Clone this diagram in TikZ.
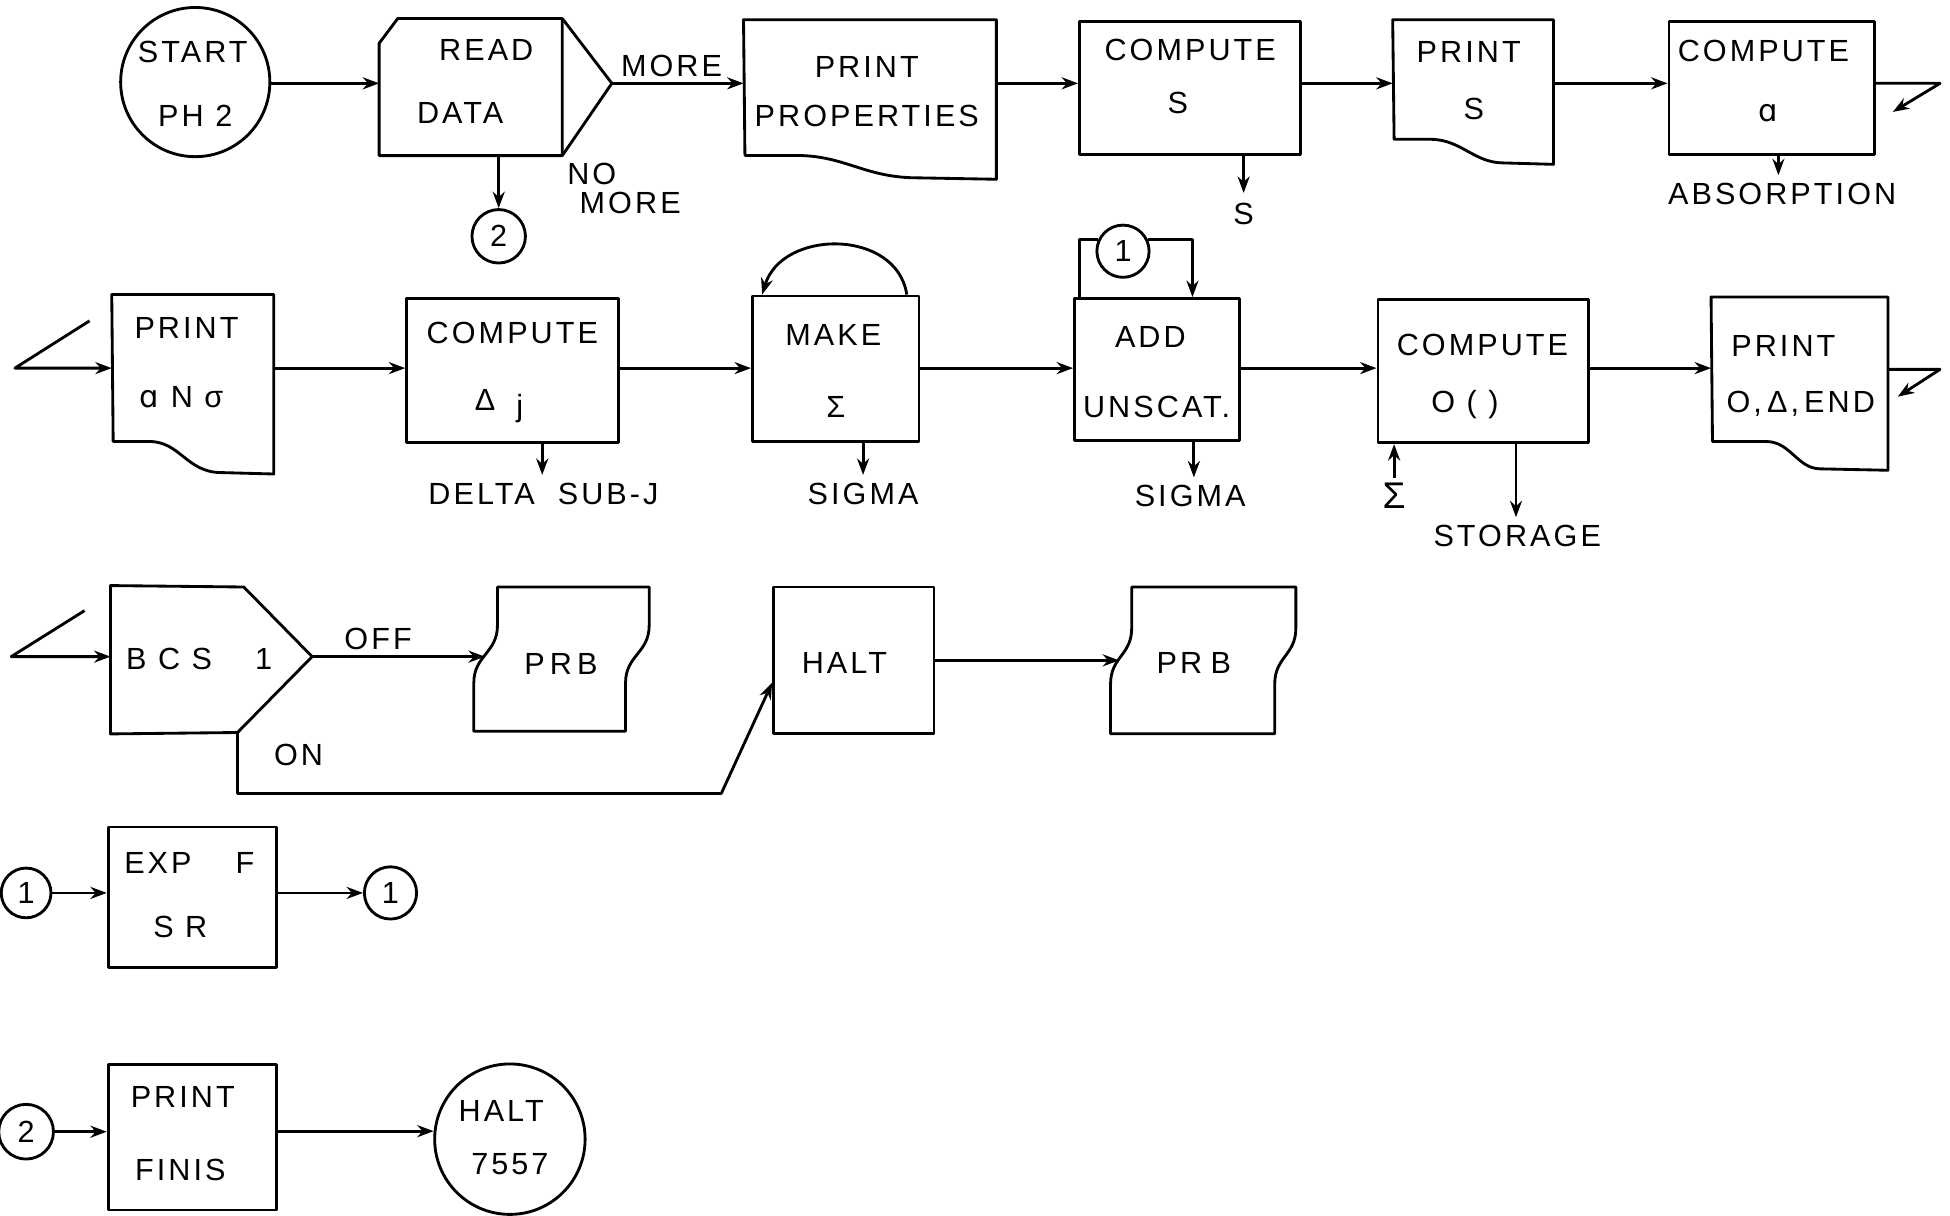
\documentclass[tikz,border=0pt]{standalone}
\usepackage{fontspec}
\setmainfont{Liberation Sans}[LetterSpace=10]
\newfontfamily\dejavu{DejaVu Sans}[LetterSpace=10]
\usetikzlibrary{arrows.meta,calc,fit}
\begin{document}
\begin{tikzpicture}[x=0.02cm,y=-0.02cm,line width=1.3pt,line join=round,
  txt/.style={inner sep=0pt,font=\fontsize{14}{16}\selectfont},
  shp/.style={inner sep=0pt,draw=none},
  boxd/.style={draw,inner sep=0pt},
  conn/.style={draw,circle,inner sep=0pt,font=\fontsize{14}{16}\selectfont},
  arr/.style={-{Stealth[length=7.5pt,width=5.5pt]}}]
\useasboundingbox (0,0) rectangle (1568,977);
\coordinate (r1) at (0,67);
\coordinate (r2) at (0,296);
\coordinate (r3) at (0,528);
\coordinate (r3b) at (0,531);

% ---------------- Row 1 ----------------
\node[conn,minimum size=2.4cm] (start) at (157,66) {};
\node[txt] (tStart1) at (155,42) {START};
\node[txt] (tStart2) at (157,93) {PH 2};

\node[shp,fit={(306,16)(451,124)}] (rd) {};
\coordinate (rdp) at (492,67);
\draw (rd.south west) -- ($(rd.north west)+(0,20)$) -- ($(rd.north west)+(15,0)$) -- (rd.north east) -- (rd.south east) -- cycle;
\draw (rd.north east) -- (rdp) -- (rd.south east);
\node[txt] (tRead) at (391,40) {READ};
\node[txt] (tData) at (370,91) {DATA};
\node[conn,minimum size=0.86cm] (c2a) at (401,190) {2};
\node[txt,anchor=west] (tNo) at (455,140) {NO};
\node[txt,anchor=west] (tNoMore) at (465,163) {MORE};
\node[txt] (tMore) at (540,53) {MORE};

\node[shp,fit={(599,17)(800,143)}] (pp) {};
\draw (pp.north west) -- (pp.north east) -- (pp.south east) -- (738,143) .. controls (695,143) and (680,125) .. (640,125) -- (599,125) -- cycle;
\node[txt] (tPP1) at (697,54) {PRINT};
\node[txt] (tPP2) at (697,93) {PROPERTIES};

\node[boxd,fit={(868,17)(1046,124)}] (cs) {};
\node[txt] (tCS1) at (957,40) {COMPUTE};
\node[txt] (tCS2) at (947,83) {S};
\node[txt] (tSout) at (1000,172) {S};

\node[shp,fit={(1121,17)(1248,131)}] (ps) {};
\draw (ps.north west) -- (ps.north east) -- (ps.south east) -- (1209,131) .. controls (1185,131) and (1175,112) .. (1150,112) -- (1121,112) -- cycle;
\node[txt] (tPS1) at (1181,42) {PRINT};
\node[txt] (tPS2) at (1185,88) {S};

\node[boxd,fit={(1342,17)(1507,124)}] (ca) {};
\node[txt] (tCA1) at (1418,41) {COMPUTE};
\node[txt] (tCA2) at (1422,91) {\dejavu ɑ};
\node[txt] (tAbs) at (1433,156) {ABSORPTION};
\coordinate (abx) at (1430,0);
\coordinate (x1a) at (1560,67);
\coordinate (x1b) at (1522,90);

\draw[arr] (start.east |- r1) -- (rd.west |- r1);
\draw[arr] (rd.south -| c2a) -- (c2a.north);
\draw[arr] (rdp) -- (pp.west |- rdp);
\draw[arr] (pp.east |- r1) -- (cs.west |- r1);
\draw[arr] (cs.east |- r1) -- (ps.west |- r1);
\draw[arr] (ps.east |- r1) -- (ca.west |- r1);
\draw[arr,shorten >=4pt] (cs.south -| tSout) -- (tSout.north);
\draw[arr,shorten >=3pt] (ca.south -| abx) -- (abx |- tAbs.north);
\draw[arr] (ca.east |- x1a) -- (x1a) -- (x1b);

% ---------------- Row 2 ----------------
\coordinate (e2a) at (72,258);
\coordinate (e2b) at (12,296);
\node[shp,fit={(91,238)(219,380)}] (pa) {};
\draw (pa.north west) -- (pa.north east) -- (pa.south east) -- (178,380) .. controls (150,380) and (145,355) .. (120,355) -- (91,355) -- cycle;
\node[txt] (tPA1) at (150,264) {PRINT};
\node[txt] (tPA2) at (146,319) {{\dejavu ɑ} N σ};

\node[boxd,fit={(327,240)(497,356)}] (cd) {};
\node[txt] (tCD1) at (412,268) {COMPUTE};
\node[txt] (tCD2) at (390,322) {Δ};
\node[txt,anchor=base] (tCD3) at (418,335) {j};
\node[txt] (tDelta) at (437,397) {DELTA\ \ SUB-J};
\coordinate (dx) at (436,0);

\node[boxd,fit={(605,238)(739,355)}] (ms) {};
\node[txt] (tMS1) at (670,269) {MAKE};
\node[txt] (tMS2) at (672,327) {Σ};
\node[txt] (tSig1) at (694,397) {SIGMA};

\node[boxd,fit={(864,240)(997,354)}] (au) {};
\node[txt] (tAU1) at (925,271) {ADD};
\node[txt] (tAU2) at (930,327) {UNSCAT.};
\node[conn,minimum size=0.84cm] (c1a) at (903,202) {1};
\node[txt] (tSig2) at (957,399) {SIGMA};
\coordinate (sx2) at (960,0);

\node[boxd,fit={(1108,241)(1277,356)}] (co) {};
\node[txt] (tCO1) at (1192,277) {COMPUTE};
\node[txt,anchor=base] (tCO2) at (1178,332) {O ( )};
\node[txt,font=\fontsize{17}{19}\selectfont] (tSig3) at (1121,399) {Σ};
\node[txt] (tSto) at (1220,431) {STORAGE};
\coordinate (stx) at (1219,0);

\node[shp,fit={(1377,240)(1517,377)}] (pe) {};
\draw (pe.north west) -- (pe.north east) -- (pe.south east) -- (1464,377) .. controls (1445,377) and (1440,355) .. (1420,355) -- (1377,355) -- cycle;
\node[txt] (tPE1) at (1434,278) {PRINT};
\node[txt,anchor=base] (tPE2) at (1448,332) {O,\,Δ,\,END};
\coordinate (x2a) at (1560,297);
\coordinate (x2b) at (1526,319);

\draw[arr] (e2a) -- (e2b) -- (pa.west |- e2b);
\draw[arr] (pa.east |- r2) -- (cd.west |- r2);
\draw[arr] (cd.east |- r2) -- (ms.west |- r2);
\draw[arr] (ms.east |- r2) -- (au.west |- r2);
\draw[arr] (au.east |- r2) -- (co.west |- r2);
\draw[arr] (co.east |- r2) -- (pe.west |- r2);
\draw[arr] (pe.east |- x2a) -- (x2a) -- (x2b);
\draw[arr,shorten >=3pt] (cd.south -| dx) -- (dx |- tDelta.north);
\draw[arr,shorten >=3pt] (ms.south -| tSig1) -- (tSig1.north);
\draw[arr,shorten >=3pt] (au.south -| sx2) -- (sx2 |- tSig2.north);
\draw[arr,shorten <=2pt] (tSig3.north) -- (co.south -| tSig3);
\draw[arr,shorten >=3pt] (co.south -| stx) -- (stx |- tSto.north);
\draw[arr] ($(ms.north east)+(-11,0)$) .. controls +(-8,-53) and +(16,-53) .. ($(ms.north west)+(9,0)$);
\draw ($(au.north west)+(5,0)$) |- (c1a.155);
\draw[arr] (c1a.25) -| ($(au.north west)+(96,0)$);

% ---------------- Row 3 ----------------
\coordinate (e3a) at (68,491);
\coordinate (e3b) at (9,528);
\node[shp,fit={(90,472)(251,589)}] (bcs) {};
\coordinate (bcsp) at (251,528);
\coordinate (bcsb) at (191,589);
\draw (bcs.south west) -- (bcs.north west) -- (196,472) -- (bcsp) -- (bcsb) -- cycle;
\node[txt] (tBCS) at (136,530) {B C S};
\node[txt] (tBCS1) at (212,530) {1};
\node[txt] (tOff) at (304,514) {OFF};
\node[txt] (tOn) at (240,607) {ON};

\node[shp,fit={(381,472)(522,588)}] (prb1) {};
\draw (400,472) -- (522,472) -- (522,503) .. controls (522,525) and (503,527) .. (503,549) -- (503,588) -- (381,588) -- (381,549) .. controls (381,527) and (400,525) .. (400,503) -- cycle;
\node[txt] (tPRB1) at (451,534) {P\,R\,B};

\node[boxd,fit={(622,472)(751,590)}] (halt) {};
\node[txt] (tHalt) at (679,533) {HALT};

\node[shp,fit={(893,472)(1042,590)}] (prb2) {};
\draw (910,472) -- (1042,472) -- (1042,505) .. controls (1042,527) and (1025,528) .. (1025,550) -- (1025,590) -- (893,590) -- (893,550) .. controls (893,528) and (910,527) .. (910,505) -- cycle;
\node[txt] (tPRB2) at (960,533) {PR\;B};
\coordinate (onc) at (580,638);

\draw[arr] (e3a) -- (e3b) -- (bcs.west |- e3b);
\draw[arr] (bcsp) -- ($(prb1.west |- r3)+(10,0)$);
\draw[arr] (bcsb) |- (onc) -- ($(halt.west)+(0,18)$);
\draw[arr] (halt.east |- r3b) -- ($(prb2.west |- r3b)+(8,0)$);

% ---------------- Row 4 ----------------
\node[conn,minimum size=0.8cm] (c1b) at (21,718) {1};
\node[boxd,fit={(87,665)(222,778)}] (exp) {};
\node[txt] (tExp1) at (127,694) {EXP};
\node[txt] (tExp2) at (197,694) {F};
\node[txt] (tExp3) at (145,745) {S R};
\node[conn,minimum size=0.84cm] (c1c) at (314,718) {1};
\draw[arr] (c1b.east) -- (exp.west |- c1b.east);
\draw[arr] (exp.east |- c1c.west) -- (c1c.west);

% ---------------- Row 5 ----------------
\node[conn,minimum size=0.88cm] (c2b) at (21,910) {2};
\node[boxd,fit={(87,856)(222,973)}] (pf) {};
\node[txt] (tPF1) at (147,882) {PRINT};
\node[txt] (tPF2) at (145,941) {FINIS};
\node[conn,minimum size=2.42cm] (halt2) at (410,916) {};
\node[txt] (tH1) at (403,893) {HALT};
\node[txt] (tH2) at (410,936) {7557};
\draw[arr] (c2b.east) -- (pf.west |- c2b.east);
\draw[arr] (pf.east |- halt2.174) -- (halt2.174);
\end{tikzpicture}
\end{document}
